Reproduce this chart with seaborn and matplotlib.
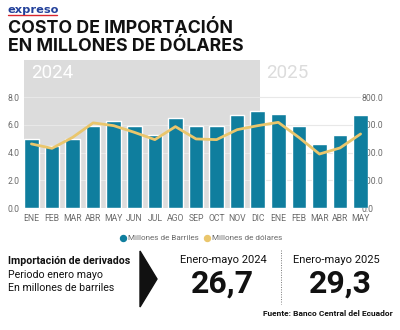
import matplotlib
matplotlib.use("Agg")
import matplotlib.pyplot as plt
from matplotlib.lines import Line2D
from matplotlib.patches import Polygon
import seaborn as sns
import pandas as pd

# ---- data ----
months = ["ENE", "FEB", "MAR", "ABR", "MAY", "JUN", "JUL", "AGO", "SEP", "OCT", "NOV", "DIC",
          "ENE", "FEB", "MAR", "ABR", "MAY"]
years = [2024] * 12 + [2025] * 5
barriles = [5.0, 4.5, 5.0, 5.9, 6.3, 5.9, 5.3, 6.5, 5.9, 5.9, 6.7, 7.0,
            6.8, 5.9, 4.6, 5.3, 6.7]
dolares = [463, 431, 510, 615, 595, 547, 494, 588, 499, 494, 566, 595,
           619, 510, 390, 434, 535]
left_ticks = [0.0, 2.0, 4.0, 6.0, 8.0]
right_ticks = [0.0, 200.0, 400.0, 600.0, 800.0]
series_names = ["Millones de Barriles", "Millones de dólares"]
total_2024 = "26,7"
total_2025 = "29,3"

labels = [f"{m}-{y}" for m, y in zip(months, years)]
df = pd.DataFrame({"label": labels, "mes": months, "anio": years,
                   "barriles": barriles, "dolares": dolares})

BAR = "#0F7E9E"
LINE = "#EAC66C"
GRAYBG = "#DCDCDC"
TICK = "#6b6b6b"
FONT = "Roboto"

sns.set_theme(style="white")
plt.rcParams["font.family"] = [FONT, "DejaVu Sans"]

fig = plt.figure(figsize=(4.0, 3.3), dpi=100)
fig.patch.set_facecolor("white")

W, H = 400, 330
x0, x1, ytop, ybot = 24, 368, 60, 208
rect = [x0 / W, 1 - ybot / H, (x1 - x0) / W, (ybot - ytop) / H]
ax = fig.add_axes(rect)
axR = ax.twinx()   # right labels (below bars)
axL = ax.twinx()   # line on top

ymax = (ybot - ytop) / 13.84

sns.barplot(data=df, x="label", y="barriles", color=BAR, saturation=1,
            width=0.71, ax=ax, zorder=3)
ax.set_xlim(-0.36, len(labels) - 1 + 0.36)
ax.set_ylim(0, ymax)
ax.axvspan(-0.36, 11.13, ymin=0, ymax=1, color=GRAYBG, zorder=0, lw=0)
for t in left_ticks:
    ax.axhline(t, xmax=0.978, color="#E8E8E8", lw=0.8, zorder=1)
ax.set_yticks(left_ticks)
ax.set_yticklabels([f"{t:.1f}" for t in left_ticks])
ax.set_xticks(range(len(labels)))
ax.set_xticklabels(months)
ax.tick_params(axis="both", length=0, labelsize=6.2, colors=TICK)
ax.tick_params(axis="y", pad=3)
ax.tick_params(axis="x", pad=4)
ax.set_xlabel("")
ax.set_ylabel("")
for s in ax.spines.values():
    s.set_visible(False)
ax.patch.set_visible(False)

axR.set_ylim(0, ymax * 100)
axR.set_yticks(right_ticks)
axR.set_yticklabels([f"{t:.1f}" for t in right_ticks])
axR.tick_params(axis="y", length=0, labelsize=6.2, colors=TICK, pad=-4.5)
for s in axR.spines.values():
    s.set_visible(False)
axR.grid(False)

sns.lineplot(data=df, x="label", y="dolares", color=LINE, lw=2.0, sort=False,
             ax=axL, legend=False)
axL.set_ylim(0, ymax * 100)
axL.set_yticks([])
axL.set_ylabel("")
axL.set_xlabel("")
for s in axL.spines.values():
    s.set_visible(False)
axL.grid(False)
axL.patch.set_visible(False)

axR.set_zorder(0)
ax.set_zorder(1)
axL.set_zorder(2)

ax.text(0.0, 9.72, "2024", color="white", fontsize=13.5, va="center", ha="left",
        transform=ax.transData)
ax.text(11.4, 9.72, "2025", color=GRAYBG, fontsize=13.5, va="center", ha="left",
        transform=ax.transData)

# ---- header ----
fig.text(8 / W, 1 - 13 / H, "expreso", fontsize=8.2, fontweight="heavy",
         color="#22409A", ha="left", va="baseline", family="DejaVu Sans")
fig.add_artist(Line2D([8 / W, 57 / W], [1 - 15 / H, 1 - 15 / H], color="#D8262E", lw=1.0))
fig.text(8 / W, 1 - 33 / H, "COSTO DE IMPORTACIÓN", fontsize=12.8, fontweight="bold",
         color="#111111", ha="left", va="baseline", family=["Inter", "Roboto"])
fig.text(8 / W, 1 - 51 / H, "EN MILLONES DE DÓLARES", fontsize=12.8, fontweight="bold",
         color="#111111", ha="left", va="baseline", family=["Inter", "Roboto"])

# ---- legend ----
ly = 1 - 238 / H
for name, col, mx in zip(series_names, [BAR, LINE], [123, 207]):
    fig.add_artist(Line2D([mx / W], [ly], marker="o", ls="", color=col, markersize=4.3,
                          transform=fig.transFigure))
    fig.text((mx + 5) / W, ly, name, fontsize=5.9, color=TICK, ha="left", va="center")

# ---- bottom panel ----
fig.text(8 / W, 1 - 261 / H, "Importación de derivados", fontsize=7.7, fontweight="bold",
         color="#111111", ha="left", va="center")
fig.text(8 / W, 1 - 275 / H, "Periodo enero mayo", fontsize=7.7,
         color="#111111", ha="left", va="center")
fig.text(8 / W, 1 - 288 / H, "En millones de barriles", fontsize=7.7,
         color="#111111", ha="left", va="center")
fig.add_artist(Polygon([[140 / W, 1 - 251 / H], [157 / W, 1 - 279 / H], [140 / W, 1 - 307 / H]],
                       closed=True, color="#111111", transform=fig.transFigure))

fig.text(223 / W, 1 - 260 / H, "Enero-mayo 2024", fontsize=8, color="#111111",
         ha="center", va="center")
fig.text(222 / W, 1 - 293 / H, total_2024, fontsize=23, fontweight="bold", color="#111111",
         ha="center", va="baseline")
fig.text(336 / W, 1 - 260 / H, "Enero-mayo 2025", fontsize=8, color="#111111",
         ha="center", va="center")
fig.text(340 / W, 1 - 293 / H, total_2025, fontsize=23, fontweight="bold", color="#111111",
         ha="center", va="baseline")
fig.add_artist(Line2D([281 / W, 281 / W], [1 - 250 / H, 1 - 304 / H], color="#777777",
                      lw=0.7, ls=(0, (1, 1.5))))
fig.text(393 / W, 1 - 314 / H, "Fuente: Banco Central del Ecuador", fontsize=6,
         fontweight="bold", color="#111111", ha="right", va="center")

fig.savefig("out.png", dpi=100, facecolor="white")
